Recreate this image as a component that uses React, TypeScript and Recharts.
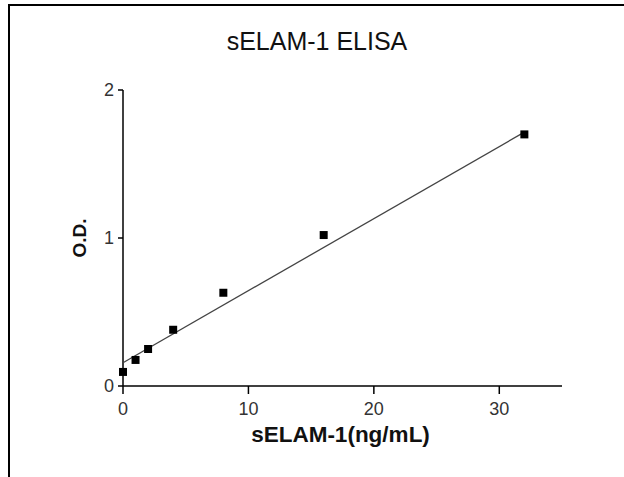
import {
  ScatterChart,
  Scatter,
  XAxis,
  YAxis,
  ZAxis,
} from 'recharts';

// standards: concentration (ng/mL) vs O.D.
const concentrations = [0, 1, 2, 4, 8, 16, 32];
const odValues = [0.095, 0.176, 0.25, 0.38, 0.63, 1.02, 1.7];

// linear fit endpoints
const fitX = [0, 32];
const fitY = [0.157, 1.715];

const xTicks = [0, 10, 20, 30];
const yTicks = [0, 1, 2];

const points = concentrations.map((x, i) => ({ x, y: odValues[i] }));
const fitLine = fitX.map((x, i) => ({ x, y: fitY[i] }));

const font = '"Liberation Sans", Arial, sans-serif';
const tickFont = '"Liberation Sans Narrow", "Liberation Sans", Arial, sans-serif';

export default function App() {
  return (
    <div
      style={{
        position: 'absolute',
        left: 0,
        top: 0,
        width: 624,
        height: 477,
        background: '#fff',
        fontFamily: font,
        overflow: 'hidden',
      }}
    >
      {/* frame: only top and left edges show */}
      <div
        style={{
          position: 'absolute',
          left: 8,
          top: 4,
          width: 640,
          height: 500,
          borderLeft: '2px solid #000',
          borderTop: '2px solid #000',
        }}
      />
      <div
        style={{
          position: 'absolute',
          left: 0,
          width: 634,
          top: 27,
          textAlign: 'center',
          fontSize: 25,
          color: '#111',
        }}
      >
        sELAM-1 ELISA
      </div>
      <div
        style={{
          position: 'absolute',
          left: 0,
          width: 681,
          top: 422,
          textAlign: 'center',
          fontSize: 22.5,
          fontWeight: 'bold',
          color: '#111',
        }}
      >
        sELAM-1(ng/mL)
      </div>
      <div
        style={{
          position: 'absolute',
          left: 80,
          top: 238,
          transform: 'translate(-50%, -50%) rotate(-90deg)',
          fontSize: 19,
          fontWeight: 'bold',
          color: '#111',
        }}
      >
        O.D.
      </div>
      <ScatterChart
        width={624}
        height={477}
        margin={{ top: 90, right: 62, bottom: 31, left: 0 }}
        style={{ position: 'absolute', left: 0, top: 0 }}
      >
        <XAxis
          type="number"
          dataKey="x"
          domain={[0, 35]}
          ticks={xTicks}
          height={60}
          stroke="#000"
          strokeWidth={1.5}
          tickSize={8}
          tickMargin={8}
          tick={{ fontSize: 18, fill: '#333', fontFamily: tickFont }}
        />
        <YAxis
          type="number"
          dataKey="y"
          domain={[0, 2]}
          ticks={yTicks}
          width={123}
          stroke="#000"
          strokeWidth={1.5}
          tickSize={5}
          tickMargin={4}
          tick={{ fontSize: 18, fill: '#333', fontFamily: tickFont }}
        />
        <ZAxis range={[42, 42]} />
        <Scatter
          data={fitLine}
          line={{ stroke: '#444', strokeWidth: 1.3 }}
          shape={() => <g />}
          isAnimationActive={false}
        />
        <Scatter
          data={points}
          fill="#000"
          shape="square"
          isAnimationActive={false}
        />
      </ScatterChart>
    </div>
  );
}
